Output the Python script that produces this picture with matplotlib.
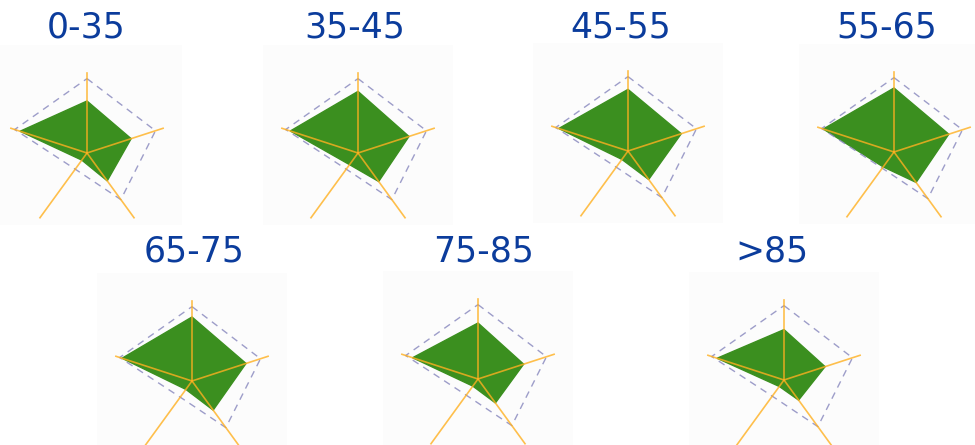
import numpy as np
import matplotlib
matplotlib.use("Agg")
import matplotlib.pyplot as plt
from matplotlib.patches import Rectangle

# Age groups, one small radar per group
GROUPS = ["0-35", "35-45", "45-55", "55-65", "65-75", "75-85", ">85"]

# five axes, clockwise from top: top, right, lower right, lower left, left
VALUES_0_35 = [65, 58, 43, 11, 88]
VALUES_35_45 = [77, 67, 44, 18, 89]
VALUES_45_55 = [77, 70, 44, 13, 91]
VALUES_55_65 = [80, 72, 47, 23, 93]
VALUES_65_75 = [80, 71, 45, 13, 92]
VALUES_75_85 = [70, 60, 37, 11, 86]
VALUES_85_UP = [63, 54, 31, 10, 88]
REFERENCE = [93, 90, 72, 25, 95]
AXIS_MAX = 100

SERIES = [VALUES_0_35, VALUES_35_45, VALUES_45_55, VALUES_55_65,
          VALUES_65_75, VALUES_75_85, VALUES_85_UP]

# layout (pixel centres of each radar, title x)
W, H = 975, 445
CENTERS = [(87, 153), (358, 153), (628, 151), (894, 152),
           (192, 381), (478, 379), (784, 380)]
TITLE_X = [86, 355, 621, 887, 194, 484, 772]
RADIUS = 80

GREEN = "#3b8f1f"
ORANGE = "#ffb020"
DASH = "#8c8cc0"
TITLE_COLOR = "#0b3c9c"

fig = plt.figure(figsize=(W / 100, H / 100), dpi=100)
fig.patch.set_facecolor("white")

n = len(REFERENCE)
angles = np.arange(n) * 2 * np.pi / n

for i, (name, vals) in enumerate(zip(GROUPS, SERIES)):
    cx, cy = CENTERS[i]
    top_row = i < 4

    # faint panel background
    bx0 = (cx - 95) / W
    by0 = 1 - (cy + 72) / H
    fig.patches.append(Rectangle((bx0, by0), 190 / W, 180 / H,
                                 transform=fig.transFigure, facecolor="#fcfcfc",
                                 edgecolor="none", zorder=-1))

    ax = fig.add_axes([(cx - RADIUS) / W, 1 - (cy + RADIUS) / H,
                       2 * RADIUS / W, 2 * RADIUS / H], projection="polar")
    ax.set_theta_offset(np.pi / 2)
    ax.set_theta_direction(-1)
    ax.set_ylim(0, AXIS_MAX)
    ax.axis("off")
    ax.patch.set_alpha(0)

    th = np.append(angles, angles[0])
    v = np.append(vals, vals[0])
    ax.fill(th, v, color=GREEN, zorder=2, clip_on=False)

    ref = np.append(REFERENCE, REFERENCE[0])
    ax.plot(th, ref, color=DASH, alpha=0.85, lw=1.0, ls=(0, (5, 4)),
            zorder=3, clip_on=False)

    for a in angles:
        ax.plot([a, a], [0, AXIS_MAX], color=ORANGE, alpha=0.8, lw=1.2,
                zorder=4, clip_on=False)

    ty = 37 if top_row else 262
    fig.text(TITLE_X[i] / W, 1 - ty / H, name, ha="center", va="baseline",
             fontsize=25, color=TITLE_COLOR, family="DejaVu Sans")

fig.savefig("out.png", dpi=100, facecolor="white")
